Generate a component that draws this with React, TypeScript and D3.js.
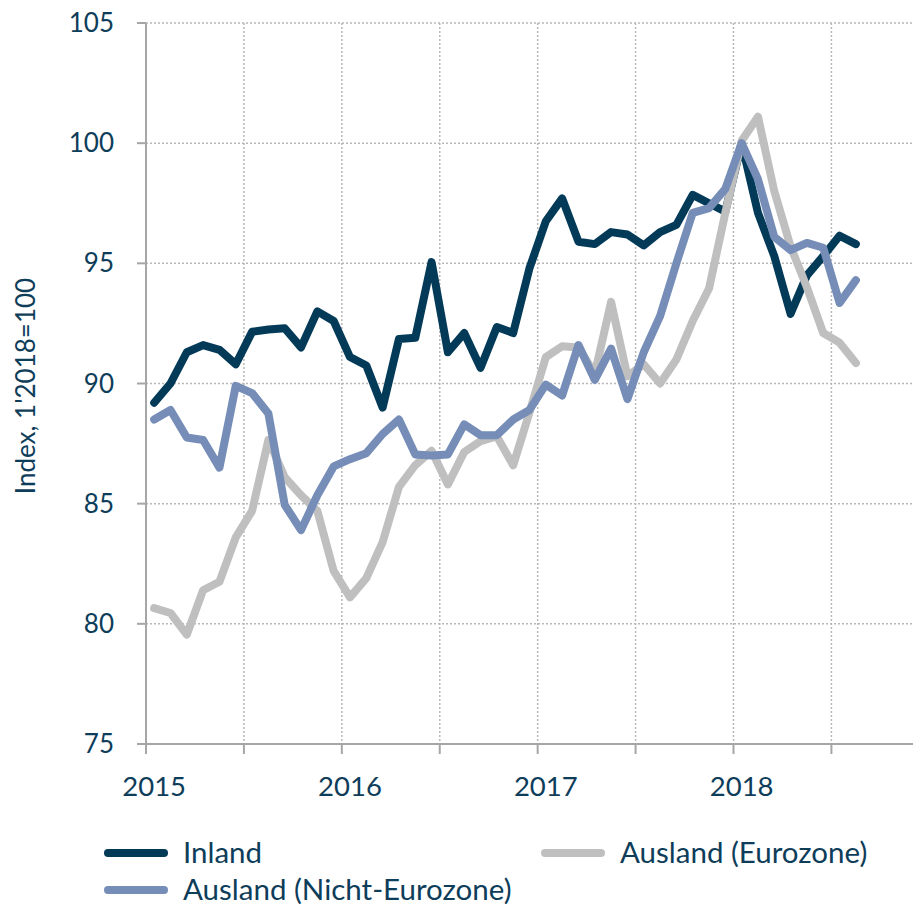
import { useRef, useEffect } from 'react'
import * as d3 from 'd3'

// monthly index values, Jan 2015 .. Aug 2018
const inland = [89.2, 90.0, 91.3, 91.6, 91.4, 90.8, 92.15, 92.25, 92.3, 91.5, 93.0, 92.6, 91.1, 90.75, 89.0, 91.85, 91.9, 95.05, 91.3, 92.1, 90.65, 92.35, 92.1, 94.8, 96.75, 97.7, 95.9, 95.8, 96.3, 96.2, 95.75, 96.3, 96.6, 97.85, 97.5, 97.15, 100.0, 97.1, 95.3, 92.9, 94.5, 95.3, 96.15, 95.8]
const eurozone = [80.65, 80.45, 79.55, 81.4, 81.75, 83.6, 84.7, 87.65, 86.1, 85.35, 84.7, 82.2, 81.1, 81.9, 83.4, 85.7, 86.6, 87.2, 85.8, 87.15, 87.6, 87.8, 86.6, 88.8, 91.1, 91.55, 91.5, 90.4, 93.4, 90.3, 90.8, 90.0, 91.0, 92.6, 93.95, 97.1, 100.1, 101.1, 98.0, 95.7, 94.0, 92.1, 91.7, 90.85]
const nichtEurozone = [88.5, 88.9, 87.75, 87.65, 86.5, 89.9, 89.6, 88.75, 84.95, 83.9, 85.35, 86.55, 86.85, 87.1, 87.9, 88.5, 87.05, 87.0, 87.05, 88.3, 87.85, 87.85, 88.5, 88.9, 89.95, 89.5, 91.6, 90.15, 91.45, 89.35, 91.3, 92.8, 95.0, 97.1, 97.3, 98.1, 100.0, 98.5, 96.1, 95.55, 95.85, 95.65, 93.35, 94.3]

const years = ['2015', '2016', '2017', '2018']
const yTicks = [75, 80, 85, 90, 95, 100, 105]

const series = [
  { name: 'Inland', values: inland, color: '#033a58' },
  { name: 'Ausland (Eurozone)', values: eurozone, color: '#bfbfbf' },
  { name: 'Ausland (Nicht-Eurozone)', values: nichtEurozone, color: '#758db7' },
]

const W = 913
const H = 907
const FONT = "Lato, 'Open Sans', sans-serif"
const TEXT = '#0e3d5a'

export default function App() {
  const svgRef = useRef<SVGSVGElement>(null)

  useEffect(() => {
    if (!svgRef.current) return
    const svg = d3.select(svgRef.current)
    svg.selectAll('*').remove()

    const left = 146
    const top = 23
    const bottom = 744

    const x = d3.scaleLinear().domain([0, 47]).range([left, W])
    const y = d3.scaleLinear().domain([75, 105]).range([bottom, top])

    // horizontal gridlines (dotted)
    svg.append('g')
      .selectAll('line')
      .data(yTicks.filter(t => t > 75))
      .join('line')
      .attr('x1', left).attr('x2', W)
      .attr('y1', d => y(d)).attr('y2', d => y(d))
      .attr('stroke', '#b8b8b8')
      .attr('stroke-width', 1.5)
      .attr('stroke-dasharray', '2,2')

    // vertical gridlines every half year
    const halfYears = d3.range(6, 47, 6)
    svg.append('g')
      .selectAll('line')
      .data(halfYears)
      .join('line')
      .attr('x1', d => x(d)).attr('x2', d => x(d))
      .attr('y1', top).attr('y2', bottom)
      .attr('stroke', '#b8b8b8')
      .attr('stroke-width', 1.5)
      .attr('stroke-dasharray', '2,2')

    // axes
    svg.append('line')
      .attr('x1', left).attr('x2', left)
      .attr('y1', top).attr('y2', bottom)
      .attr('stroke', '#a6a6a6').attr('stroke-width', 2)
    svg.append('line')
      .attr('x1', left - 9).attr('x2', W)
      .attr('y1', bottom).attr('y2', bottom)
      .attr('stroke', '#a6a6a6').attr('stroke-width', 2)

    // y ticks + labels
    svg.append('g')
      .selectAll('line')
      .data(yTicks)
      .join('line')
      .attr('x1', left - 9).attr('x2', left)
      .attr('y1', d => y(d)).attr('y2', d => y(d))
      .attr('stroke', '#a6a6a6').attr('stroke-width', 2)
    svg.append('g')
      .selectAll('text')
      .data(yTicks)
      .join('text')
      .attr('x', 114)
      .attr('y', d => y(d))
      .attr('dy', '0.35em')
      .attr('text-anchor', 'end')
      .attr('fill', TEXT)
      .attr('font-size', '26px')
      .attr('font-family', FONT)
      .text(d => d)

    // x ticks + year labels
    svg.append('g')
      .selectAll('line')
      .data(d3.range(0, 47, 6))
      .join('line')
      .attr('x1', d => x(d)).attr('x2', d => x(d))
      .attr('y1', bottom).attr('y2', bottom + 10)
      .attr('stroke', '#a6a6a6').attr('stroke-width', 2)
    svg.append('g')
      .selectAll('text')
      .data(years)
      .join('text')
      .attr('x', (_, i) => x(i * 12 + 0.5))
      .attr('y', 796)
      .attr('text-anchor', 'middle')
      .attr('fill', TEXT)
      .attr('font-size', '27.5px')
      .attr('font-family', FONT)
      .text(d => d)

    // axis title
    svg.append('text')
      .attr('transform', 'translate(35,386) rotate(-90)')
      .attr('text-anchor', 'middle')
      .attr('fill', TEXT)
      .attr('font-size', '26px')
      .attr('font-family', FONT)
      .text("Index, 1'2018=100")

    // lines
    const line = d3.line<number>()
      .x((_, i) => x(i + 0.5))
      .y(d => y(d))

    svg.append('g')
      .selectAll('path')
      .data(series)
      .join('path')
      .attr('d', d => line(d.values))
      .attr('fill', 'none')
      .attr('stroke', d => d.color)
      .attr('stroke-width', 8)
      .attr('stroke-linejoin', 'round')
      .attr('stroke-linecap', 'round')

    // legend
    const legendPos = [
      { x: 108, y: 853 },
      { x: 545, y: 853 },
      { x: 108, y: 890 },
    ]
    const lg = svg.append('g')
      .selectAll('g')
      .data(series)
      .join('g')
      .attr('transform', (_, i) => `translate(${legendPos[i].x},${legendPos[i].y})`)
    lg.append('line')
      .attr('x1', 0).attr('x2', 56)
      .attr('y1', 0).attr('y2', 0)
      .attr('stroke', d => d.color)
      .attr('stroke-width', 8)
      .attr('stroke-linecap', 'round')
    lg.append('text')
      .attr('x', 75)
      .attr('dy', '0.35em')
      .attr('fill', TEXT)
      .attr('font-size', '29.5px')
      .attr('font-family', FONT)
      .text(d => d.name)
  }, [])

  return <svg ref={svgRef} width={W} height={H} style={{ position: 'absolute', left: 0, top: 0 }} />
}
